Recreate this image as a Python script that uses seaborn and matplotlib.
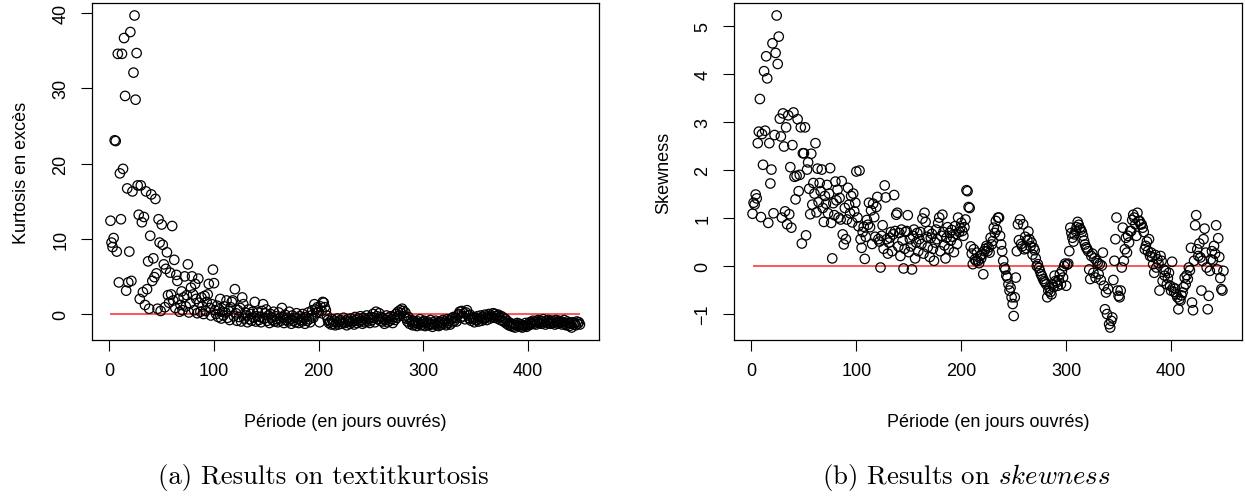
import numpy as np
import pandas as pd
import seaborn as sns
import matplotlib
matplotlib.use("Agg")
import matplotlib.pyplot as plt

# Moments of returns computed over windows of increasing length (business days)
kurtosis_short = [
    12.4, 9.5, 8.9, 10.1, 23.1, 23.0, 8.3, 34.6, 4.2, 18.7,
    12.6, 34.6, 19.3, 36.7, 29.0, 3.1, 16.7, 4.2, 8.3, 37.5,
    4.4, 16.3, 32.1, 39.7, 28.5, 34.7, 17.1, 13.2, 2.0, 17.1,
    12.2, 2.9, 12.9, 1.2, 16.3, 3.3, 7.0, 0.7, 10.4, 15.9,
    4.4, 7.4, 4.9, 15.3, 5.4, 0.7, 12.6, 9.5, 0.4, 11.9,
    9.2, 6.6, 0.9, 6.0, 8.2, 2.5, 1.5, 5.5, 2.6, 11.7,
    1.8, 7.2, 0.8, 5.2, 4.4, 2.0, 0.3, 1.2, 3.0, 0.5,
    2.2, 5.0, 1.0, 2.5, 6.6, 0.2, 1.4, 3.5, 5.0, 2.6,
    0.5, 4.0, 2.0, 0.1, 4.7, 1.5, 0.3, 2.2, 1.0, 0.0,
    2.4, 0.4, 1.6, 2.6, 4.0, 0.8, -0.2, 1.3, 5.9, 4.1,
    0.5, 0.0, 1.1, -0.4, 0.6, 2.0, -0.6, 0.3, -0.2, 1.0,
]
kurtosis_mid = [
    0.2, 1.8, -0.5, 0.4, -0.8, 0.9, 1.6, 1.8, -0.3, 3.3,
    0.1, -0.9, 0.5, -0.4, 0.8, -1.0, 2.2, 1.3, -0.6, 0.2,
    -0.2, -1.1, 0.6, -0.7, 0.0, -0.9, 0.3, -0.5, 1.6, -1.0,
    -0.3, 0.2, -0.8, -0.4, -1.1, 0.4, 1.3, -0.6, 0.1, 0.6,
    -0.9, -0.2, -1.2, 0.0, -0.5, -0.8, 0.3, -1.0, -0.3, -0.7,
    -1.1, 0.2, -0.6, -0.9, 0.8, -0.4, -1.2, -0.1, -0.8, -0.5,
    -1.0, 0.3, -0.7, -1.3, -0.2, -0.9, -0.5, -1.1, 0.1, -0.6,
    -1.2, -0.3, -0.8, -1.0, 0.0, -0.6, -1.3, -0.4, -0.9, 0.2,
    -0.7, -1.1, -0.2, 0.5, -0.5, 1.3, 0.6, 0.2, 0.9, 0.3,
    -1.1, 1.0, 0.4, 1.6, 1.5, 0.9, 0.5, -0.2, -0.8, -1.2,
    -1.0, -1.4, -0.7, -1.3, -0.9, -1.5, -1.1, -0.6, -1.4, -1.0,
    -0.8, -1.3, -1.1, -0.5, -1.2, -0.9, -1.5, -0.7, -1.0, -1.3,
    -0.6, -1.1, -0.9, -1.4, -0.4, -0.8, -1.2, -0.6, -1.0, -0.3,
    -0.9, -1.3, -0.5, -1.1, -0.7, -0.2, -1.0, -0.6, -1.2, -0.4,
    -0.8, 0.0, -0.5, -1.1, 0.3, -0.3, -0.7, 0.1, -0.9, -0.4,
    -1.0, -0.6, -1.3, -0.8, -0.2, -1.1, -0.5, -0.9, -0.3, -0.7,
    -1.2, -0.4, -0.8, 0.0, -0.5, 0.3, -0.2, 0.5, 0.1, 0.7,
]
kurtosis_long = [
    0.4, -0.3, 0.2, -0.6, -1.0, -0.4, -1.3, -0.8, -1.1, -1.5,
    -0.9, -1.4, -1.2, -1.6, -1.0, -1.3, -0.7, -1.5, -1.1, -1.4,
    -0.9, -1.6, -1.2, -1.0, -1.5, -1.3, -0.8, -1.4, -1.7, -1.1,
    -1.3, -0.9, -1.5, -1.2, -1.6, -1.0, -1.4, -1.1, -0.8, -1.3,
    -1.0, -1.5, -0.7, -1.2, -0.9, -1.4, -0.6, -1.1, -0.4, -0.9,
    -0.5, -1.0, -0.2, 0.0, 0.3, -0.5, 0.4, -0.3, 0.1, -0.7,
    0.2, 0.5, -0.2, -0.6, -0.1, -0.9, -0.4, -0.7, -1.1, -0.5,
    -0.8, -0.3, -1.0, -0.6, -0.2, -0.9, -0.4, -0.7, -0.1, -0.5,
    -0.8, -0.3, 0.0, -0.6, -0.2, -0.4, 0.1, -0.5, 0.0, -0.3,
    -0.6, -0.1, -0.4, -0.8, -0.3, -0.9, -0.5, -1.1, -0.7, -1.3,
    -1.0, -1.5, -1.2, -1.6, -1.3, -1.7, -1.4, -1.8, -1.5, -1.2,
    -1.6, -1.3, -1.7, -1.4, -1.8, -1.5, -1.6, -1.2, -1.7, -1.4,
    -1.5, -1.1, -1.4, -1.2, -0.9, -1.3, -1.0, -1.4, -1.1, -0.8,
    -1.2, -0.9, -1.3, -1.0, -0.7, -1.1, -1.4, -0.9, -1.2, -0.8,
    -1.1, -1.3, -0.9, -1.2, -1.0, -1.4, -0.8, -1.1, -1.3, -0.9,
    -1.2, -1.0, -1.4, -1.1, -0.8, -1.3, -1.5, -1.0, -1.2, -1.6,
    -1.3, -1.8, -1.1, -1.4, -1.2, -1.5, -1.0, -1.3, -1.1, -1.4,
]

skewness_short = [
    1.08, 1.31, 1.27, 1.48, 1.40, 2.55, 2.79, 3.47, 1.01, 2.74,
    2.10, 4.05, 2.81, 4.36, 3.90, 0.89, 2.55, 1.71, 2.00, 4.63,
    1.09, 2.72, 4.43, 5.21, 4.20, 4.77, 3.06, 2.69, 1.00, 3.17,
    2.48, 1.13, 2.88, 0.86, 3.13, 1.07, 2.05, 0.79, 2.51, 3.19,
    1.85, 1.38, 1.87, 3.05, 1.55, 1.89, 2.88, 0.46, 2.34, 2.34,
    2.88, 0.63, 2.00, 2.15, 1.60, 1.07, 2.33, 1.27, 1.72, 1.50,
    2.55, 1.11, 2.02, 1.32, 1.72, 1.55, 2.00, 1.20, 0.91, 1.45,
    1.29, 1.68, 1.09, 1.50, 2.03, 0.89, 0.15, 1.30, 1.05, 1.75,
    1.36, 1.58, 1.00, 1.41, 0.96, 1.76, 0.65, 0.44, 1.20, 0.55,
    0.96, 1.62, 1.27, 1.09, 1.45, 0.90, 1.50, 1.13, 1.31, 1.96,
    1.00, 0.82, 1.98, 0.55, 0.37, 0.70, 0.81, 0.14, 0.60, 0.95,
]
skewness_mid = [
    0.85, 1.31, 0.80, 1.15, 0.45, 1.29, 1.01, 0.60, 1.22, 1.43,
    0.55, 0.50, -0.04, 0.62, 0.84, 0.35, 1.67, 1.42, 0.55, 0.25,
    0.48, 0.58, 0.70, 0.30, 0.65, 1.47, 0.72, 1.06, 1.10, 0.40,
    0.68, 0.20, 0.75, 0.52, -0.06, 0.35, 0.70, 0.72, 1.05, 0.28,
    0.55, 0.40, -0.08, 0.62, 0.75, 0.15, 0.48, 0.68, 0.30, 0.55,
    0.70, 0.45, 0.98, 0.25, 1.10, 0.91, 0.60, 0.38, 0.72, 0.18,
    0.58, 0.66, 0.35, 0.10, 0.48, 0.75, 0.55, 0.89, 1.00, 0.30,
    0.62, 1.06, 0.70, 0.42, 0.15, 0.58, 0.80, 0.35, 0.68, 0.52,
    0.74, 0.60, 0.28, 0.82, 0.66, 0.45, 1.00, 0.70, 0.78, 0.89,
    0.72, 0.62, 0.80, 0.96, 1.57, 1.55, 1.22, 1.20, 0.40, 0.25,
    0.03, 0.34, 0.13, 0.10, 0.27, 0.10, 0.05, 0.20, 0.15, 0.23,
    -0.18, 0.30, 0.35, 0.41, 0.30, 0.38, 0.27, 0.58, 0.44, 0.51,
    0.79, 0.68, 0.93, 0.75, 1.00, 1.00, 0.62, 0.44, 0.30, 0.10,
    -0.04, -0.08, -0.21, -0.25, -0.39, -0.52, -0.46, -0.66, -0.80, -1.05,
    -0.66, -0.25, 0.30, 0.86, 0.53, 0.96, 0.45, 0.40, 0.86, 0.34,
    0.60, 0.36, 0.53, 0.71, 0.55, 0.40, 0.48, 0.23, 0.37, 0.32,
    0.15, -0.01, 0.03, -0.05, -0.11, -0.18, -0.22, -0.28, -0.32, -0.35,
    -0.39, -0.66, -0.52, -0.46, -0.55, -0.60, -0.39, -0.45, -0.21, -0.32,
    -0.35, -0.42, -0.30, -0.18, -0.39, -0.11, -0.25, -0.01, 0.04, -0.42,
]
skewness_long = [
    0.02, 0.04, 0.30, 0.79, 0.68, 0.58, 0.50, 0.65, 0.72, 0.80,
    0.91, 0.85, 0.78, 0.75, 0.70, 0.62, 0.52, 0.44, 0.38, 0.35,
    0.30, -0.08, -0.28, 0.20, 0.25, -0.15, 0.15, -0.25, 0.10, 0.05,
    -0.18, 0.03, -0.30, 0.00, 0.27, -0.42, -0.91, -0.56, -1.01, -0.49,
    -1.22, -1.29, -1.15, -1.08, -0.30, 0.10, 0.55, 1.00, -0.52, -0.63,
    -0.66, -0.52, -0.04, 0.79, 0.10, 0.34, 0.58, 0.27, 0.62, 0.48,
    0.72, 0.72, 0.95, 1.06, 1.00, 0.86, 0.62, 1.10, 0.93, 0.93,
    0.86, 0.86, 0.79, 0.70, 0.34, 0.41, 0.50, 0.30, 0.55, 0.20,
    0.27, 0.18, 0.03, -0.15, 0.22, -0.04, 0.13, 0.05, -0.52, 0.20,
    0.10, -0.32, -0.08, -0.21, -0.11, -0.39, -0.26, -0.15, -0.42, -0.52,
    0.08, -0.46, -0.55, -0.48, -0.60, -0.66, -0.91, -0.70, -0.73, -0.62,
    -0.56, -0.45, -0.25, -0.39, -0.20, -0.28, -0.04, -0.10, 0.37, -0.77,
    -0.93, 0.10, 0.84, 1.05, 0.34, 0.20, 0.46, 0.17, -0.52, 0.10,
    0.55, 0.77, 0.27, -0.04, -0.91, -0.63, -0.11, 0.13, 0.30, 0.11,
    0.41, 0.25, 0.84, -0.08, 0.57, 0.18, -0.26, -0.49, -0.52, -0.11,
]

kurtosis = kurtosis_short + kurtosis_mid + kurtosis_long
skewness = skewness_short + skewness_mid + skewness_long
periods = list(range(1, len(kurtosis) + 1))

x_label = "Période (en jours ouvrés)"
y_labels = ["Kurtosis en excès", "Skewness"]
captions = ["(a) Results on textitkurtosis", r"(b) Results on $\mathit{skewness}$"]
x_ticks = [0, 100, 200, 300, 400]
y_ticks = [[0, 10, 20, 30, 40], [-1, 0, 1, 2, 3, 4, 5]]

sns.set_theme(style="white")
plt.rcParams["font.family"] = ["Liberation Sans", "DejaVu Sans"]
plt.rcParams["mathtext.fontset"] = "cm"

W, H = 1245, 502
fig = plt.figure(figsize=(W / 100, H / 100), dpi=100)

boxes = [(91.7, 598.7), (733.7, 1242.3)]
top_px, bottom_px = 4, 341
caption_x = [323, 966]

df = pd.DataFrame({"periode": periods, "kurtosis": kurtosis, "skewness": skewness})


def r_range(values):
    lo, hi = min(values), max(values)
    pad = 0.04 * (hi - lo)
    return lo - pad, hi + pad


for i, col in enumerate(["kurtosis", "skewness"]):
    l, r = boxes[i]
    ax = fig.add_axes([l / W, 1 - bottom_px / H, (r - l) / W, (bottom_px - top_px) / H])
    sns.scatterplot(data=df, x="periode", y=col, ax=ax, marker="o", s=46,
                    facecolor="none", edgecolor="black", linewidth=0.9, zorder=3)
    ax.hlines(0, df["periode"].iloc[0], df["periode"].iloc[-1], color="#ff2a2a",
              linewidth=1.1, zorder=2)
    ax.set_xlim(*r_range(df["periode"]))
    ax.set_ylim(*r_range(df[col]))
    ax.set_xticks(x_ticks)
    ax.set_yticks(y_ticks[i])
    for s in ax.spines.values():
        s.set_visible(True)
        s.set_color("black")
        s.set_linewidth(0.9)
    ax.tick_params(axis="both", which="both", direction="out", length=8,
                   width=0.8, color="black", labelsize=13, labelcolor="black",
                   bottom=True, left=True, top=False, right=False, pad=8)
    for lab in ax.get_yticklabels():
        lab.set_rotation(90)
        lab.set_va("center")
    ax.set_xlabel(x_label, fontsize=13, labelpad=24, color="black")
    ax.set_ylabel(y_labels[i], fontsize=13, labelpad=16, color="black")
    ax.grid(False)
    fig.text(caption_x[i] / W, 1 - 478 / H, captions[i], ha="center", va="center",
             fontsize=19.3, family=["cmr10", "DejaVu Serif"], color="black")

fig.savefig("out.png", dpi=100)
